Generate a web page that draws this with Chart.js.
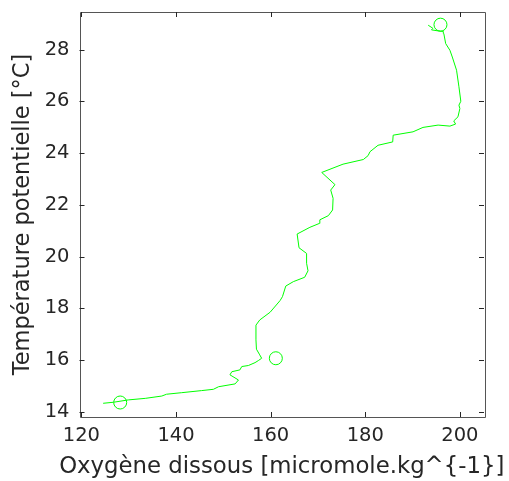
<!DOCTYPE html>
<html>
<head>
<meta charset="utf-8">
<script src="https://cdn.jsdelivr.net/npm/chart.js@4/dist/chart.umd.min.js"></script>
<style>
  html, body { margin: 0; padding: 0; background: #ffffff; }
  #wrap { width: 509px; height: 481px; position: relative; }
</style>
</head>
<body>
<div id="wrap"><canvas id="c" width="509" height="481"></canvas></div>
<script>
// Dissolved oxygen (µmol/kg) along the profile, deep -> surface
const oxygen = [124.6,126.8,129.9,133.5,137.0,138.0,141.2,145.4,147.9,149.0,152.5,153.2,151.4,151.8,153.5,153.9,155.3,156.7,157.4,158.1,157.7,157.0,156.9,156.9,157.7,159.9,162.0,162.5,163.2,164.8,167.2,167.9,167.6,167.6,166.0,165.6,168.3,170.3,170.4,172.2,173.1,173.2,172.7,173.6,170.8,175.3,179.6,180.6,181.0,182.7,185.8,185.9,190.1,192.2,195.4,197.9,199.1,198.7,199.6,200.0,199.8,200.2,199.8,199.3,198.4,197.9,197.0,196.6,196.5,195.4,194.0,194.3,193.3];
// Potential temperature (°C)
const temperature = [14.33,14.37,14.46,14.52,14.61,14.68,14.74,14.82,14.87,14.97,15.08,15.23,15.43,15.55,15.62,15.75,15.79,15.90,15.98,16.07,16.20,16.42,16.78,17.35,17.55,17.85,18.30,18.45,18.86,19.03,19.20,19.45,19.74,20.12,20.34,20.87,21.13,21.28,21.42,21.58,21.80,22.25,22.57,22.78,23.25,23.57,23.75,23.90,24.05,24.30,24.43,24.69,24.82,24.99,25.08,25.04,25.12,25.24,25.40,25.72,25.85,26.00,26.56,27.20,27.71,27.97,28.23,28.62,28.70,28.72,28.76,28.82,28.94];
// Circle markers
const markerOxygen = [128.2, 161.1, 195.9];
const markerTemperature = [14.36, 16.07, 28.96];
// Tick labels
const xTicks = [120, 140, 160, 180, 200];
const yTicks = [14, 16, 18, 20, 22, 24, 26, 28];
// Axis titles
const xTitle = 'Oxygène dissous [micromole.kg^{-1}]';
const yTitle = 'Température potentielle [°C]';

const lineData = oxygen.map((x, i) => ({ x: x, y: temperature[i] }));
const markerData = markerOxygen.map((x, i) => ({ x: x, y: markerTemperature[i] }));

const AX = '#262626';
const FONT = 'DejaVu Sans';

// let the x title keep its natural width (it overhangs the plot box like the reference)
const noSqueeze = {
  id: 'noSqueeze',
  beforeDraw(chart) {
    const ctx = chart.ctx;
    if (ctx.__wrapped) return;
    const orig = ctx.fillText.bind(ctx);
    ctx.fillText = function (t, x, y, mw) {
      if (t === xTitle || mw === undefined) orig(t, x, y);
      else orig(t, x, y, mw);
    };
    ctx.__wrapped = true;
  }
};

const boxTicks = {
  id: 'boxTicks',
  afterDatasetsDraw(chart) {
    const ctx = chart.ctx;
    const a = chart.chartArea;
    const xs = chart.scales.x, ys = chart.scales.y;
    ctx.save();
    ctx.strokeStyle = '#555555';
    ctx.lineWidth = 1;
    ctx.beginPath();
    ctx.rect(Math.round(a.left) + 0.5, Math.round(a.top) + 0.5, Math.round(a.right - a.left), Math.round(a.bottom - a.top));
    ctx.stroke();
    ctx.strokeStyle = '#262626';
    const L = 5;
    ctx.beginPath();
    xTicks.forEach(v => {
      const px = Math.round(xs.getPixelForValue(v)) + 0.5;
      ctx.moveTo(px, a.bottom); ctx.lineTo(px, a.bottom - L);
      ctx.moveTo(px, a.top); ctx.lineTo(px, a.top + L);
    });
    yTicks.forEach(v => {
      const py = Math.round(ys.getPixelForValue(v)) + 0.5;
      ctx.moveTo(a.left, py); ctx.lineTo(a.left + L, py);
      ctx.moveTo(a.right, py); ctx.lineTo(a.right - L, py);
    });
    ctx.stroke();
    ctx.restore();
  }
};

new Chart(document.getElementById('c'), {
  type: 'scatter',
  data: {
    datasets: [
      {
        data: lineData,
        showLine: true,
        borderColor: '#00ff00',
        borderWidth: 1,
        pointRadius: 0,
        tension: 0
      },
      {
        data: markerData,
        showLine: false,
        pointStyle: 'circle',
        pointRadius: 6.5,
        borderColor: '#00ff00',
        borderWidth: 1,
        backgroundColor: 'rgba(0,0,0,0)'
      }
    ]
  },
  options: {
    responsive: false,
    animation: false,
    devicePixelRatio: 1,
    layout: { padding: { top: 12, right: 25, left: 8, bottom: 0 } },
    plugins: { legend: { display: false }, tooltip: { enabled: false } },
    scales: {
      x: {
        type: 'linear',
        min: 119.6,
        max: 205.1,
        afterBuildTicks(scale) { scale.ticks = xTicks.map(v => ({ value: v })); },
        afterFit(scale) { scale.height = 481 - 417; scale.paddingLeft = 0; scale.paddingRight = 0; },
        grid: { display: false, drawTicks: false },
        border: { display: false },
        ticks: { color: AX, font: { family: FONT, size: 19.5 }, padding: 7, maxRotation: 0, autoSkip: false },
        title: { display: true, text: xTitle, color: AX, font: { family: FONT, size: 22.8 }, padding: { top: 0, bottom: 0 } }
      },
      y: {
        type: 'linear',
        min: 13.8,
        max: 29.45,
        afterBuildTicks(scale) { scale.ticks = yTicks.map(v => ({ value: v })); },
        afterFit(scale) { scale.width = 79.5 - 8; scale.paddingTop = 0; scale.paddingBottom = 0; },
        grid: { display: false, drawTicks: false },
        border: { display: false },
        ticks: { color: AX, font: { family: FONT, size: 19.5 }, padding: 10, autoSkip: false },
        title: { display: true, text: yTitle, color: AX, font: { family: FONT, size: 22.5 }, padding: { top: 2, bottom: 0 } }
      }
    }
  },
  plugins: [noSqueeze, boxTicks]
});
</script>
</body>
</html>
